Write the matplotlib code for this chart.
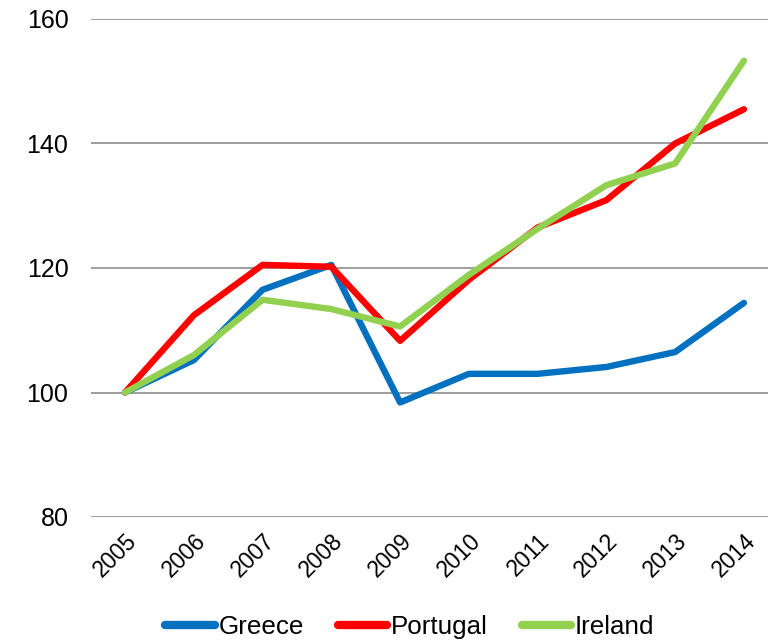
import matplotlib.pyplot as plt

plt.rcParams['font.family'] = ['Liberation Sans', 'DejaVu Sans']

years = ['2005', '2006', '2007', '2008', '2009', '2010', '2011', '2012', '2013', '2014']
greece = [100, 105.2, 116.5, 120.5, 98.4, 103.0, 103.0, 104.1, 106.5, 114.4]
portugal = [100, 112.4, 120.5, 120.2, 108.3, 118.1, 126.5, 130.9, 140.0, 145.5]
ireland = [100, 106.0, 114.9, 113.4, 110.6, 118.9, 126.3, 133.3, 136.8, 153.3]

fig = plt.figure(figsize=(7.68, 6.41), dpi=100)
ax = fig.add_axes([0.118, 1 - 517 / 641, 0.882, 498 / 641])

x = range(len(years))
style = dict(lw=4.6, solid_capstyle='round', solid_joinstyle='round', zorder=3)
ax.plot(x, greece, color='#0070C0', label='Greece', **style)
ax.plot(x, portugal, color='#FF0000', label='Portugal', **style)
ax.plot(x, ireland, color='#92D050', label='Ireland', **style)

ax.set_ylim(80, 160)
ax.set_yticks([80, 100, 120, 140, 160])
ax.set_xlim(-0.5, 9.35)
ax.set_xticks(list(x))
ax.set_xticklabels(years, rotation=45, ha='right', rotation_mode='anchor')
ax.grid(axis='y', color='#969696', lw=1.3)
ax.set_axisbelow(True)
for s in ax.spines.values():
    s.set_visible(False)
ax.tick_params(axis='both', length=0)
ax.tick_params(axis='y', labelsize=18, pad=16)
ax.tick_params(axis='x', labelsize=16.5, pad=9)

leg = fig.legend(loc='center', bbox_to_anchor=(410 / 768, 1 - 627 / 641), ncol=3, frameon=False,
                 fontsize=18.7, handlelength=1.9, handletextpad=0.15, columnspacing=1.3,
                 borderpad=0)
for h in leg.get_lines():
    h.set_linewidth(6)

fig.savefig('out.png', dpi=100)
